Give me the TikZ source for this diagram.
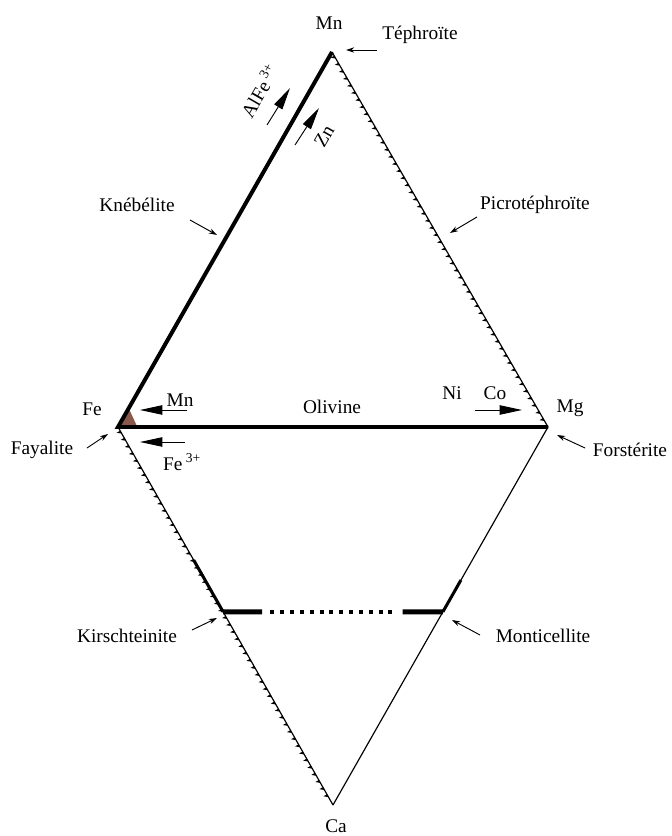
\documentclass[tikz,border=0pt]{standalone}
\usepackage{fontspec}
\setmainfont{Liberation Serif}
\usetikzlibrary{calc,arrows.meta,decorations.markings}
\definecolor{rust}{RGB}{110,45,30}

\begin{document}
\begin{tikzpicture}[x=0.03cm,y=0.03cm,
    every node/.style={font=\fontsize{16.5}{19}\selectfont},
    side/.style={line width=1pt},
    heavy/.style={line width=3.4pt},
    toothed/.style={side, postaction={decorate, decoration={markings,
        mark=between positions 0.01 and 0.99 step 7pt with {\fill (0,0) -- (2.8pt,0) -- (0,-3.4pt) -- cycle;}}}},
    ptr/.style={line width=0.8pt, -{Stealth[length=7pt,width=4.5pt]}},
    subst/.style={line width=0.8pt, -{Triangle[length=19pt,width=8pt]}}]
    \useasboundingbox (0,0) rectangle (672,836);
    \coordinate (Mn) at (332,784);
    \coordinate (Fe) at (118,409);
    \coordinate (Mg) at (548,409);
    \coordinate (Ca) at (333,31);
    \coordinate (K) at ($(Fe)!0.489!(Ca)$);
    \coordinate (M) at ($(Mg)!0.489!(Ca)$);
    \fill[rust, opacity=0.8] (Fe) -- ($(Fe)!0.05!(Mn)$) -- ($(Fe)!0.045!(Mg)$) -- cycle;
    \draw[heavy] (Mg) -- (Fe) -- (Mn);
    \draw[toothed] (Mn) -- (Mg);
    \draw[side] (Mg) -- (Ca);
    \draw[toothed] (Fe) -- (Ca);
    \draw[line width=2.6pt] ($(Fe)!0.352!(Ca)$) -- (K);
    \draw[line width=2.6pt] ($(Mg)!0.405!(Ca)$) -- (M);
    \draw[line width=4.2pt] (K) -- ($(K)!0.178!(M)$);
    \draw[line width=4.2pt] ($(K)!0.817!(M)$) -- (M);
    \draw[line width=3pt, dash pattern=on 3.4pt off 5pt] ($(K)!0.215!(M)$) -- ($(K)!0.785!(M)$);
    % labels
    \node (mnlab) at (329,813) {Mn};
    \node (tephro) at (420,801) {Téphroïte};
    \node[rotate=60] (alfe) at (259,745) {AlFe\,\textsuperscript{3+}};
    \node[rotate=60] (zn) at (324,700) {Zn};
    \node (knebel) at (137,631) {Knébélite};
    \node (picro) at (535,631) {Picrotéphroïte};
    \node (felab) at (92,427) {Fe};
    \node (fayal) at (42,386) {Fayalite};
    \node (mnsub) at (180,436) {Mn};
    \node (fesub) at (182,374) {Fe\,\textsuperscript{3+}};
    \node (olivine) at (332,429) {Olivine};
    \node (ni) at (452,443) {Ni};
    \node (co) at (495,443) {Co};
    \node (mglab) at (570,428) {Mg};
    \node (forst) at (630,386) {Forstérite};
    \node (kirsch) at (127,200) {Kirschteinite};
    \node (montic) at (543,200) {Monticellite};
    \node (calab) at (336,10) {Ca};
    % pointers
    \coordinate (tephroA) at (377,786); \coordinate (tephroB) at (346,786);
    \coordinate (knebelA) at (190,616); \coordinate (knebelB) at (217,601);
    \coordinate (picroA) at (477,619); \coordinate (picroB) at (450,603);
    \coordinate (fayalA) at (87,388); \coordinate (fayalB) at (108,402);
    \coordinate (forstA) at (585,388); \coordinate (forstB) at (557,401);
    \coordinate (kirschA) at (192,206); \coordinate (kirschB) at (217,218);
    \coordinate (monticA) at (480,201); \coordinate (monticB) at (452,216);
    \foreach \p in {tephro,knebel,picro,fayal,forst,kirsch,montic}
        \draw[ptr] (\p A) -- (\p B);
    % substitutions
    \coordinate (alfeA) at (267,711); \coordinate (alfeB) at (290,748);
    \coordinate (znA) at (295,691); \coordinate (znB) at (319,728);
    \coordinate (mnsubA) at (187,426); \coordinate (mnsubB) at (140,426);
    \coordinate (fesubA) at (185,394); \coordinate (fesubB) at (140,394);
    \coordinate (coA) at (475,426); \coordinate (coB) at (522,426);
    \foreach \p in {alfe,zn,mnsub,fesub,co}
        \draw[subst] (\p A) -- (\p B);
\end{tikzpicture}
\end{document}
